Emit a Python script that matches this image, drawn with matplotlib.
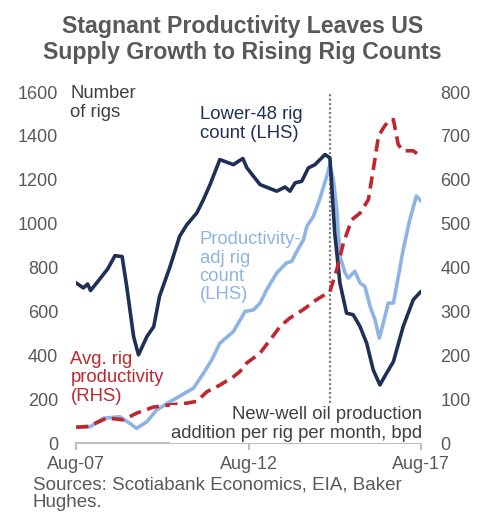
import matplotlib
matplotlib.use("Agg")
import matplotlib.pyplot as plt

plt.rcParams["font.family"] = ["Liberation Sans", "DejaVu Sans"]

# Data (months since Aug-07)
rig_months = [0, 2.5, 4, 5, 8, 11, 13.5, 16, 17.6, 20, 21.7, 24.6, 27, 29, 32.7, 36, 38.5,
              42, 44.3, 46.6, 50, 54.7, 58, 59.4, 61.7, 64, 69.8, 72.7, 74.4, 76.2, 78.5,
              80.8, 83.1, 86.6, 88.3, 90, 91.8, 94.1, 96.4, 98.8, 101.1, 103.4, 105.7,
              108, 110.4, 113.8, 117.3, 120]
rig_count = [730, 707, 725, 695, 744, 794, 854, 850, 714, 485, 402, 485, 531, 668, 805, 942, 995,
             1049, 1110, 1178, 1292, 1269, 1297, 1255, 1216, 1178, 1148, 1167, 1148, 1186, 1193,
             1254, 1269, 1315, 1300, 957, 729, 592, 585, 531, 455, 333, 265,
             318, 371, 531, 653, 691]

adj_months = [0, 4.8, 9.4, 15.2, 18.7, 21, 24.6, 28, 32.7, 36.2, 40.8, 44.3, 47.2, 50, 54.7,
              58.8, 61.7, 64, 66.3, 69.8, 73.2, 75, 76.8, 79.1, 80.3, 82.6, 84.9, 87.2, 88.3,
              89.5, 90.7, 91.8, 93.6, 94.7, 97, 98.8, 100.5, 102.3, 104, 105.5, 106.9, 108.6,
              110.4, 111.5, 113.8, 116.1, 118.4, 120]
adj_count = [72, 74, 113, 120, 90, 67, 97, 151, 189, 215, 250, 318, 379, 455, 508,
             600, 607, 638, 699, 775, 821, 828, 874, 927, 988, 1034, 1117, 1216, 1270,
             1201, 1064, 851, 775, 752, 783, 729, 714, 622, 562, 478, 547, 638,
             638, 714, 881, 1018, 1126, 1103]

prod_months = [0, 4.3, 10.7, 16.5, 21, 26.9, 32.7, 38.5, 42, 45.5, 50, 54.7, 57, 59.3, 64, 67.5,
               71, 74.4, 79, 83.7, 88.3, 90.7, 93, 95.9, 98.8, 101.7, 103.4, 105.2, 106.9,
               109, 110.4, 112.1, 113.8, 117.3, 120]
productivity = [36, 38, 57, 53, 68, 82, 87, 91, 95, 117, 132, 151, 163, 182, 205, 235,
                266, 285, 304, 327, 345, 395, 456, 509, 524, 555, 623, 699, 718,
                737, 737, 680, 666, 666, 653]

tick_pos = [0, 60, 120]
tick_labels = ["Aug-07", "Aug-12", "Aug-17"]
peak_month = 88.3

NAVY = "#1F3057"
LIGHT = "#8EB4E3"
RED = "#C0272D"
GREY = "#595959"

fig = plt.figure(figsize=(4.85, 5.14), dpi=100)
ax = fig.add_axes([0.157, 0.138, 0.711, 0.683])
ax2 = ax.twinx()

ax.plot(rig_months, rig_count, color=NAVY, lw=2.6, solid_capstyle="round", zorder=3)
ax.plot(adj_months, adj_count, color=LIGHT, lw=2.6, solid_capstyle="round", zorder=2)
ax2.plot(prod_months, productivity, color=RED, lw=2.6, linestyle=(0, (3.4, 1.8)), zorder=3)
ax.axvline(peak_month, color="#808080", lw=1.6, linestyle=(0, (1, 1)), zorder=1)

ax.set_xlim(0, 120)
ax.set_ylim(0, 1600)
ax2.set_ylim(0, 800)
ax.set_yticks(range(0, 1601, 200))
ax2.set_yticks(range(0, 801, 100))
ax.set_xticks(tick_pos)
ax.set_xticklabels(tick_labels)

for a in (ax, ax2):
    for s in ("top", "left", "right"):
        a.spines[s].set_visible(False)
    a.spines["bottom"].set_color("#BFBFBF")
    a.spines["bottom"].set_linewidth(1.5)
    a.tick_params(axis="y", length=0, labelsize=13, labelcolor=GREY, pad=13)
ax2.tick_params(axis="y", pad=14)
ax.tick_params(axis="x", length=5, width=1.5, color="#BFBFBF", labelsize=13,
               labelcolor=GREY, pad=4)

# Title, two lines placed by baseline
fig.text(0.5, 1 - 33 / 514, "Stagnant Productivity Leaves US", fontsize=16.7,
         fontweight="bold", color=GREY, ha="center", va="baseline")
fig.text(0.5, 1 - 59 / 514, "Supply Growth to Rising Rig Counts", fontsize=16.7,
         fontweight="bold", color=GREY, ha="center", va="baseline")

ax.text(-2, 1630, "Number\nof rigs", fontsize=13.3, color="#404040", va="top", ha="left",
        linespacing=1.1)
ax.text(43, 1535, "Lower-48 rig\ncount (LHS)", fontsize=13.3, color=NAVY, va="top",
        ha="left", linespacing=1.1)
ax.text(43, 965, "Productivity-\nadj rig\ncount\n(LHS)", fontsize=13.3, color=LIGHT,
        va="top", ha="left", linespacing=1.1)
ax.text(-2, 420, "Avg. rig\nproductivity\n(RHS)", fontsize=13.3, color=RED, va="top",
        ha="left", linespacing=1.1)
ax2.text(120.5, 3, "New-well oil production\naddition per rig per month, bpd", fontsize=13.3,
         color="#404040", va="bottom", ha="right", linespacing=1.1, zorder=5,
         bbox=dict(facecolor="white", edgecolor="none", pad=1))

fig.text(0.068, 1 - 476 / 514, "Sources: Scotiabank Economics, EIA, Baker\nHughes.",
         fontsize=13.5, color=GREY, va="top", ha="left", linespacing=1.05)

fig.savefig("out.png", dpi=100)
plt.close(fig)
